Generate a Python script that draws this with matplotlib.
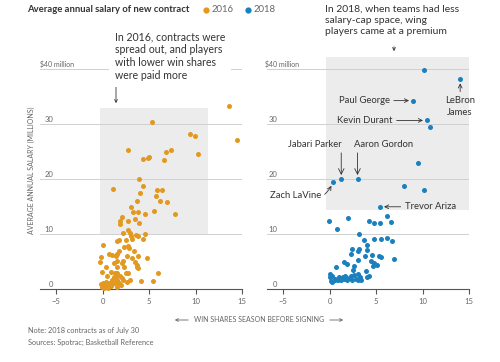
import matplotlib
matplotlib.use("Agg")
from matplotlib import pyplot
from matplotlib.patches import Rectangle, FancyArrowPatch
from matplotlib.lines import Line2D

# ---------------------
# data
# ---------------------
ws_2016 = [13.6, 14.5, 5.3, 9.4, 9.9, 10.3, 2.7, 4.3, 4.9, 5.0, 6.8, 7.4, 6.6, 1.1, 3.9, 4.3,
           4.0, 5.9, 6.4, 5.7, 6.2, 6.9, 3.7, 3.1, 5.5, 3.3, 3.8, 4.6, 7.8, 2.1, 3.5, 1.9,
           2.7, 3.9, 1.9, 2.7, 2.2, 2.9, 4.6, 3.6, 3.0, 3.8, 4.3, 3.2, 1.8, 2.5, 1.6, 0.0,
           2.7, 2.3, 2.8, 1.8, 3.4, 0.7, 1.0, 1.6, 1.4, 3.8, 2.6, -0.2, 3.2, 4.8, 1.6, 2.2,
           -0.3, 3.5, 1.2, 2.1, 3.7, 3.7, 0.4, 1.5, 2.3, 3.8, -0.1, 0.9, 1.3, 1.6, 2.5, 2.7,
           6.0, 0.5, 1.2, 1.4, 1.9, 2.1, 2.2, 2.9, 1.5, 1.0, 5.4, 4.1, 0.4, 0.7, 1.3, 1.8,
           2.6, 0.0, -0.2, 0.3, 0.5, 0.0, 0.2, 1.0, -0.1, 0.1, 0.6, 1.5, 2.0, 0.9]
sal_2016 = [33.3, 27.1, 30.5, 28.3, 27.8, 24.6, 25.4, 23.6, 23.8, 24.0, 25.0, 25.4, 23.5, 18.2, 20.0, 18.7,
            17.5, 18.0, 18.0, 17.0, 16.0, 15.8, 16.0, 15.0, 14.3, 14.0, 14.0, 13.7, 13.6, 13.2, 12.8, 12.4,
            12.5, 12.0, 11.9, 10.7, 10.2, 10.2, 10.0, 9.9, 9.7, 9.6, 9.2, 9.2, 9.0, 9.0, 8.7, 8.0,
            7.9, 7.6, 7.5, 7.0, 7.0, 6.4, 6.2, 6.5, 6.0, 6.1, 6.0, 5.8, 5.6, 5.6, 5.2, 5.1,
            4.9, 4.9, 4.7, 4.7, 4.4, 4.1, 4.1, 4.0, 4.0, 3.9, 3.2, 3.2, 3.0, 2.9, 3.0, 2.9,
            2.9, 2.5, 2.3, 2.5, 2.5, 2.0, 1.7, 1.7, 1.7, 1.6, 1.5, 1.5, 1.4, 1.2, 1.2, 1.2,
            1.3, 1.2, 1.0, 0.9, 1.0, 0.7, 0.5, 1.0, 0.4, 0.2, 0.3, 0.5, 0.8, 0.6]

ws_2018 = [10.8, 9.5, 8.0, 10.2, 10.2, -0.1, 2.0, 0.75, 4.2, 4.8, 5.4, 6.2, 6.6, 3.15, 3.7, 4.8,
           5.5, 6.2, 6.7, 4.0, 2.4, 3.15, 3.0, 2.3, 4.05, 4.6, 3.8, 5.3, 4.5, 5.5, 6.9, 4.8,
           5.05, 4.7, 1.5, 1.9, 3.1, 2.65, 0.65, 3.9, 2.5, 0.0, 0.05, 0.25, 0.6, 1.0, 1.4, 1.7,
           2.3, 2.6, 3.0, 3.3, 4.2, 0.1, 0.6, 1.2, 1.9, 2.4, 2.8, 3.4, 4.0, 0.3, 0.9, 1.5,
           2.1, 3.05]
sal_2018 = [29.5, 22.9, 18.8, 18.1, 39.9, 12.5, 13.0, 11.0, 12.4, 12.0, 12.0, 13.3, 12.2, 10.1, 9.0, 9.1,
            9.1, 9.3, 8.8, 8.0, 7.4, 7.4, 7.0, 6.5, 7.1, 6.3, 6.1, 6.1, 5.2, 5.9, 5.5, 4.8,
            4.5, 4.2, 5.0, 4.6, 5.3, 4.3, 4.1, 3.4, 3.5, 2.8, 2.3, 2.5, 1.9, 2.3, 2.3, 2.4,
            2.4, 2.6, 2.8, 2.3, 2.4, 1.5, 1.6, 1.7, 1.6, 1.7, 1.9, 1.7, 2.3, 1.4, 1.6, 1.8,
            2.0, 1.7]

# named 2018 players
label_names = ["Paul George", "Kevin Durant", "LeBron\nJames", "Jabari Parker",
               "Aaron Gordon", "Zach LaVine", "Trevor Ariza"]
label_ws = [9.0, 10.5, 14.05, 1.25, 3.0, 0.4, 5.4]
label_sal = [34.3, 30.7, 38.2, 20.0, 20.0, 19.5, 15.0]

x_ticks = [-5, 0, 5, 10, 15]
x_tick_labels = ["\u22125", "0", "5", "10", "15"]
y_ticks = [0, 10, 20, 30, 40]
y_tick_labels = ["0", "10", "20", "30", "$40 million"]
years = ["2016", "2018"]

ORANGE = "#e3991f"
BLUE = "#1a80be"
BOX = "#ececec"
GRID = "#d0d0d0"
TXT = "#333333"
GRAY = "#666666"

pyplot.rcParams["font.family"] = ["Lato", "DejaVu Sans"]

W, H = 500, 362
fig = pyplot.figure(figsize=(W / 100, H / 100), dpi=100)


def fx(px):
    return px / W


def fy(py):
    return 1 - py / H


def rect(x0, x1, top, bot):
    return [fx(x0), fy(bot), (x1 - x0) / W, (bot - top) / H]


def fig_arrow(p0, p1, col=TXT):
    fig.add_artist(FancyArrowPatch((fx(p0[0]), fy(p0[1])), (fx(p1[0]), fy(p1[1])),
                                   transform=fig.transFigure, arrowstyle="->",
                                   mutation_scale=5, color=col, lw=0.6))


ax1 = fig.add_axes(rect(40, 242, 50, 289.3))
ax2 = fig.add_axes(rect(267, 469, 50, 289.3))


def style_axis(ax, num_x, big_x):
    ax.set_xlim(-6.74, 15)
    ax.set_ylim(0, 43.5)
    for s in ["top", "left", "right"]:
        ax.spines[s].set_visible(False)
    ax.spines["bottom"].set_color("#555555")
    ax.spines["bottom"].set_linewidth(0.8)
    ax.set_xticks(x_ticks)
    ax.set_xticklabels(x_tick_labels)
    ax.tick_params(axis="x", direction="out", length=3.5, width=0.8, color="#555555",
                   labelsize=5.5, labelcolor=GRAY, pad=3)
    ax.tick_params(axis="y", left=False, labelleft=False)
    ax.set_yticks([])
    for y, lab in zip(y_ticks, y_tick_labels):
        if y > 0:
            ax.axhline(y, color=GRID, lw=0.7, zorder=1)
        if lab.startswith("$"):
            ax.text(big_x, y + 0.5, lab, transform=ax.get_yaxis_transform(),
                    ha="left", va="baseline", fontsize=5, color=GRAY)
        else:
            ax.text(num_x, y + 0.5, lab, transform=ax.get_yaxis_transform(),
                    ha="right", va="baseline", fontsize=5.5, color=GRAY)


style_axis(ax1, 0.065, 0.0)
style_axis(ax2, 0.05, -0.01)

# highlighted regions
ax1.add_patch(Rectangle((-0.3, 10), 11.6, 23, color=BOX, zorder=0, lw=0))
ax2.add_patch(Rectangle((-0.4, 14.4), 15.4, 27.9, color=BOX, zorder=0, lw=0))

ax1.scatter(ws_2016, sal_2016, s=13, color=ORANGE, lw=0, zorder=3, clip_on=False)
ax2.scatter(ws_2018 + label_ws, sal_2018 + label_sal, s=13, color=BLUE, lw=0, zorder=3, clip_on=False)

# player labels (offsets in points)
arr = dict(arrowstyle="->", color=TXT, lw=0.6, shrinkA=1, shrinkB=3)
pts = dict(zip(label_names, zip(label_ws, label_sal)))
NAME_FS = 6.8

ax2.annotate("Paul George", xy=pts["Paul George"], xytext=(-17, 0), textcoords="offset points",
             ha="right", va="center", fontsize=NAME_FS, color=TXT, arrowprops=arr)
ax2.annotate("Kevin Durant", xy=pts["Kevin Durant"], xytext=(-25, 0), textcoords="offset points",
             ha="right", va="center", fontsize=NAME_FS, color=TXT, arrowprops=arr)
ax2.annotate("LeBron\nJames", xy=pts["LeBron\nJames"], xytext=(0, -12), textcoords="offset points",
             ha="center", va="top", fontsize=NAME_FS, color=TXT, linespacing=1.45, arrowprops=arr)
ax2.annotate("Trevor Ariza", xy=pts["Trevor Ariza"], xytext=(18, 0), textcoords="offset points",
             ha="left", va="center", fontsize=NAME_FS, color=TXT, arrowprops=arr)
ax2.annotate("Zach LaVine", xy=pts["Zach LaVine"], xytext=(-9, -10), textcoords="offset points",
             ha="right", va="center", fontsize=NAME_FS, color=TXT,
             arrowprops=dict(arr, connectionstyle="arc3,rad=0.5"))
for name, dx in [("Jabari Parker", -19), ("Aaron Gordon", 19)]:
    ax2.annotate("", xy=pts[name], xytext=(0, 20), textcoords="offset points", arrowprops=arr)
    ax2.annotate(name, xy=pts[name], xytext=(dx, 25), textcoords="offset points",
                 ha="center", va="center", fontsize=NAME_FS, color=TXT)

# title and legend
fig.text(fx(27), fy(10), "Average annual salary of new contract", fontsize=6.8,
         fontweight="bold", color=TXT, va="center", ha="left")
for year, col, px in zip(years, [ORANGE, BLUE], [206, 248]):
    fig.add_artist(Line2D([fx(px)], [fy(10)], marker="o", ms=4.5, color=col, mec="none",
                          transform=fig.transFigure))
    fig.text(fx(px + 6), fy(10), year, fontsize=6.8, color=GRAY, va="center", ha="left")

# callouts
fig.text(fx(115), fy(31), "In 2016, contracts were\nspread out, and players\nwith lower win shares\nwere paid more",
         fontsize=7.6, color=TXT, va="top", ha="left", linespacing=1.22,
         bbox=dict(facecolor="white", edgecolor="none", pad=4))
fig.text(fx(325), fy(5), "In 2018, when teams had less\nsalary-cap space, wing\nplayers came at a premium",
         fontsize=7.5, color=TXT, va="top", ha="left", linespacing=1.25)
fig_arrow((116, 84), (116, 106))
fig_arrow((394, 44), (394, 54))

# axis labels
fig.text(fx(31), fy(170), "AVERAGE ANNUAL SALARY (MILLIONS)", rotation=90, fontsize=5,
         color=GRAY, ha="center", va="center")
fig.text(fx(259), fy(320), "WIN SHARES SEASON BEFORE SIGNING", fontsize=5, color=GRAY,
         ha="center", va="center")
fig_arrow((191, 320), (172, 320), GRAY)
fig_arrow((327, 320), (346, 320), GRAY)

fig.text(fx(28), fy(331), "Note: 2018 contracts as of July 30", fontsize=5.3, color=GRAY, va="center")
fig.text(fx(28), fy(342), "Sources: Spotrac; Basketball Reference", fontsize=5.3, color=GRAY, va="center")

fig.savefig("out.png", dpi=100, facecolor="white")
